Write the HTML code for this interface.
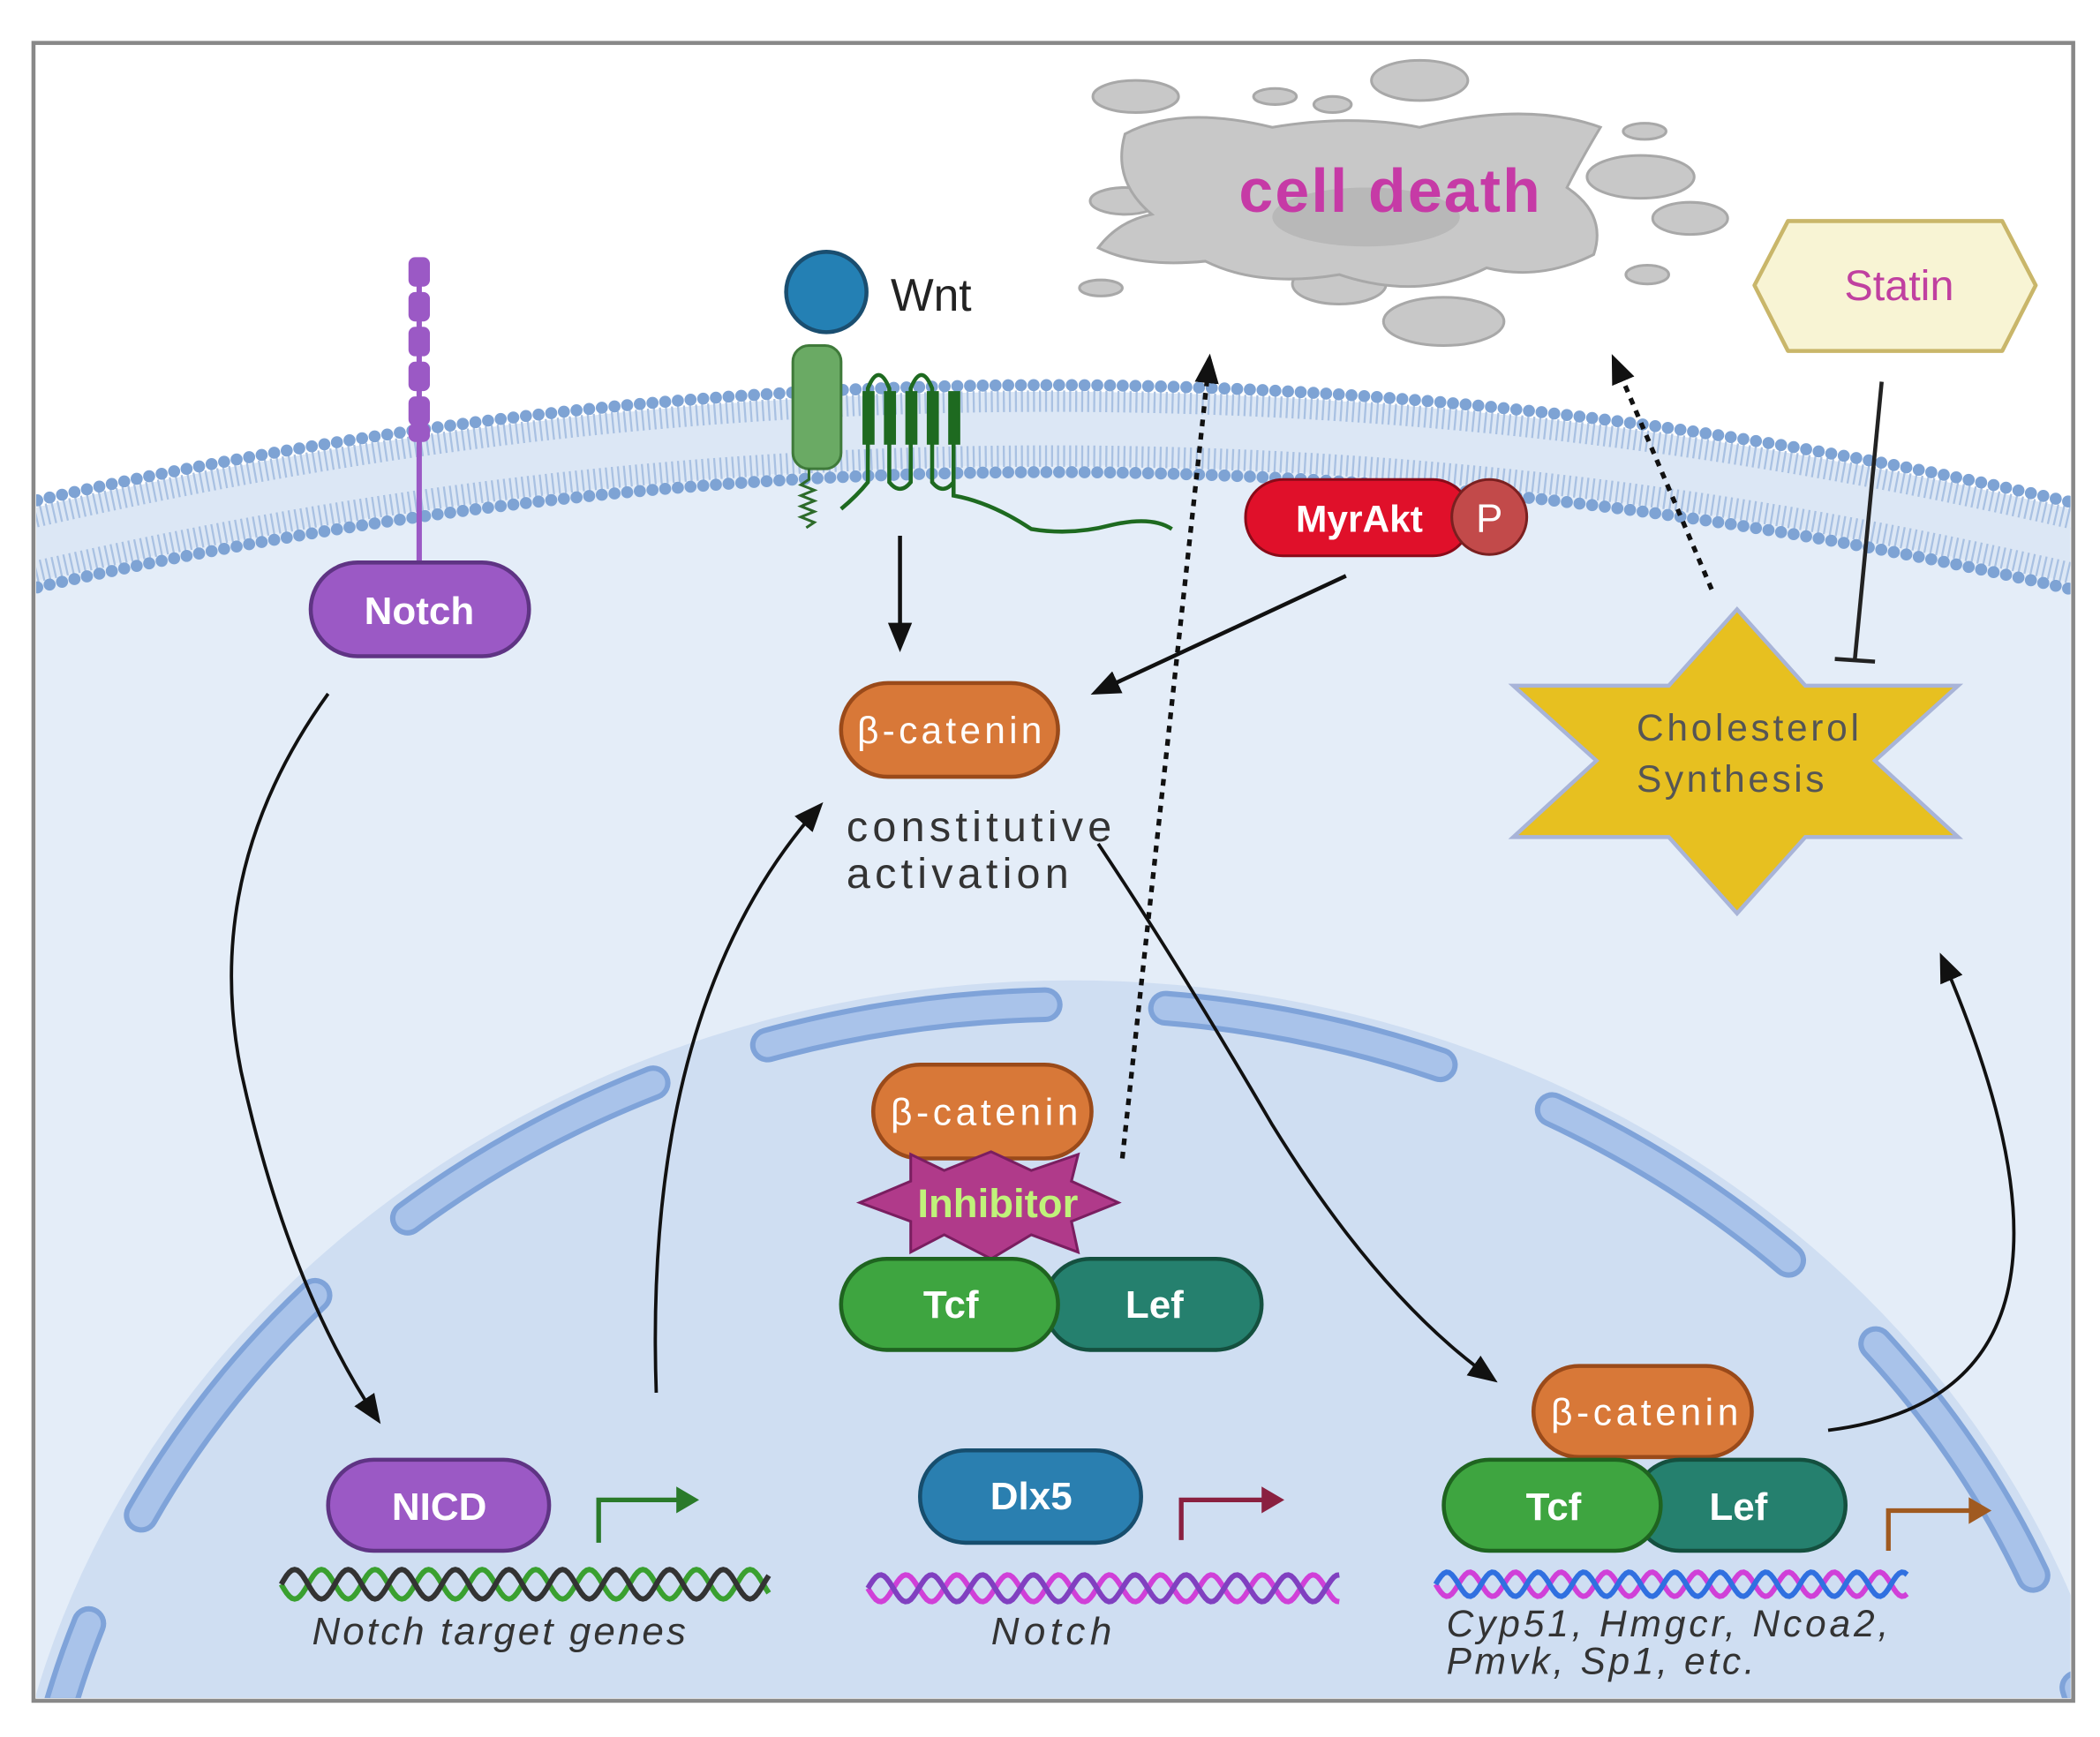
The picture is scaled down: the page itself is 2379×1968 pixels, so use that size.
<!DOCTYPE html>
<html><head><meta charset="utf-8">
<style>
html,body{margin:0;padding:0;background:#fff;width:2379px;height:1968px;overflow:hidden}
svg{display:block}
text{font-family:"Liberation Sans",sans-serif}
</style></head>
<body>
<svg id="s" width="2379" height="1968" viewBox="0 0 1568 1297" xmlns="http://www.w3.org/2000/svg">
<defs>
<marker id="ahb" markerWidth="22" markerHeight="22" refX="18" refY="11" orient="auto" markerUnits="userSpaceOnUse" viewBox="0 0 22 22">
<path d="M0,2 L22,11 L0,20 z" fill="#111"/></marker>
<clipPath id="clip"><rect x="27" y="34" width="1519" height="1234"/></clipPath>
</defs>
<rect x="0" y="0" width="1568" height="1297" fill="#fff"/>
<g clip-path="url(#clip)">
<path d="M0,440 Q785,255 1568,440 L1568,1297 L0,1297 z" fill="#e4edf8"/>
<path d="M0,385 Q785,200 1568,385 L1568,440 Q785,255 0,440 z" fill="#dce7f5"/>
<path d="M0,392 Q785,207 1568,392" fill="none" stroke="#a9c1e2" stroke-width="16" stroke-dasharray="1.5 3"/>
<path d="M0,433 Q785,248 1568,433" fill="none" stroke="#a9c1e2" stroke-width="16" stroke-dasharray="1.5 3"/>
<path d="M0,380 Q785,195 1568,380" fill="none" stroke="#7ea3d4" stroke-width="9" stroke-linecap="round" stroke-dasharray="0 9.5"/>
<path d="M0,445 Q785,260 1568,445" fill="none" stroke="#7ea3d4" stroke-width="9" stroke-linecap="round" stroke-dasharray="0 9.5"/>
<ellipse cx="800" cy="1450" rx="800" ry="718" fill="#cfdef2"/>
<ellipse cx="800" cy="1450" rx="780" ry="700" fill="none" stroke="#7fa3d9" stroke-width="26" stroke-linecap="round" stroke-dasharray="210 90" stroke-dashoffset="40"/>
<ellipse cx="800" cy="1450" rx="780" ry="700" fill="none" stroke="#a9c3ea" stroke-width="18" stroke-linecap="round" stroke-dasharray="210 90" stroke-dashoffset="40"/>
</g>
<rect x="25" y="32" width="1523" height="1238" fill="none" stroke="#888" stroke-width="3"/>

<g fill="#c8c8c8" stroke="#a8a8a8" stroke-width="2">
<ellipse cx="848" cy="72" rx="32" ry="12"/><ellipse cx="1060" cy="60" rx="36" ry="15"/>
<ellipse cx="952" cy="72" rx="16" ry="6"/><ellipse cx="995" cy="78" rx="14" ry="6"/>
<ellipse cx="1228" cy="98" rx="16" ry="6"/><ellipse cx="1225" cy="132" rx="40" ry="16"/>
<ellipse cx="1262" cy="163" rx="28" ry="12"/><ellipse cx="840" cy="150" rx="26" ry="10"/>
<ellipse cx="822" cy="215" rx="16" ry="6"/><ellipse cx="1078" cy="240" rx="45" ry="18"/>
<ellipse cx="1000" cy="212" rx="35" ry="15"/><ellipse cx="1230" cy="205" rx="16" ry="7"/>
<path d="M840,100 Q880,78 950,95 Q1010,85 1060,95 Q1140,75 1195,95 Q1180,120 1170,140 Q1200,160 1190,190 Q1150,210 1110,200 Q1060,225 1000,205 Q940,215 900,195 Q850,200 820,185 Q835,165 860,160 Q830,135 840,100 z"/>
</g>
<ellipse cx="1020" cy="162" rx="70" ry="22" fill="#b8b8b8"/>
<text x="925" y="158" font-size="46" font-weight="bold" fill="#c63aa6" textLength="225">cell  death</text>

<path d="M1335,165 L1495,165 L1520,213 L1495,262 L1335,262 L1310,213 z" fill="#f8f4d4" stroke="#c9b66a" stroke-width="3" stroke-linejoin="round"/>
<text x="1418" y="224" font-size="32" fill="#c040a0" text-anchor="middle">Statin</text>
<line x1="1405" y1="285" x2="1385" y2="492" stroke="#222" stroke-width="3"/>
<line x1="1370" y1="492" x2="1400" y2="494" stroke="#222" stroke-width="3"/>

<path d="M1297,455 L1348,512 L1462,512 L1400,568 L1462,625 L1348,625 L1297,682 L1246,625 L1130,625 L1192,568 L1130,512 L1246,512 z" fill="#e7c020" stroke="#a8b4d8" stroke-width="3"/>
<text x="1222" y="553" font-size="28" fill="#555" textLength="166">Cholesterol</text>
<text x="1222" y="591" font-size="28" fill="#555" textLength="140">Synthesis</text>

<line x1="313" y1="195" x2="313" y2="420" stroke="#9b59c5" stroke-width="4"/>
<g fill="#9b59c5">
<rect x="305" y="192" width="16" height="22" rx="5"/><rect x="305" y="218" width="16" height="22" rx="5"/>
<rect x="305" y="244" width="16" height="22" rx="5"/><rect x="305" y="270" width="16" height="22" rx="5"/>
<rect x="305" y="296" width="16" height="22" rx="5"/><rect x="305" y="316" width="16" height="14" rx="5"/></g>
<rect x="232" y="420" width="163" height="70" rx="35" fill="#9b59c5" stroke="#5f3484" stroke-width="3"/>
<text x="313" y="466" font-size="29" font-weight="bold" fill="#fff" text-anchor="middle">Notch</text>

<circle cx="617" cy="218" r="30" fill="#2480b4" stroke="#1a4e70" stroke-width="3"/>
<text x="665" y="232" font-size="34" fill="#222">Wnt</text>
<rect x="592" y="258" width="36" height="92" rx="12" fill="#6aaa64" stroke="#3f7a3a" stroke-width="2"/>
<path d="M604,350 l0,8 l-6,4 l10,4 l-10,4 l10,4 l-10,4 l10,4 l-10,4 l10,4 l-6,4" fill="none" stroke="#2d6b2a" stroke-width="2"/>
<path d="M628,380 Q640,370 648,360 L648,290 Q656,270 664,290 L664,360 Q672,370 680,360 L680,290 Q688,270 696,290 L696,360 Q704,370 712,360 L712,300 L712,370 Q740,375 770,395 Q800,400 830,392 Q860,385 875,395" fill="none" stroke="#1e6a20" stroke-width="3"/>
<g fill="#1e6a20"><rect x="644" y="292" width="9" height="40"/><rect x="660" y="292" width="9" height="40"/><rect x="676" y="292" width="9" height="40"/><rect x="692" y="292" width="9" height="40"/><rect x="708" y="292" width="9" height="40"/></g>
<line x1="672" y1="400" x2="672" y2="483" stroke="#111" stroke-width="3" marker-end="url(#ahb)"/>

<rect x="930" y="358" width="168" height="57" rx="28" fill="#e0102a" stroke="#8a0a18" stroke-width="2"/>
<text x="1015" y="397" font-size="28" font-weight="bold" fill="#fff" text-anchor="middle">MyrAkt</text>
<circle cx="1112" cy="386" r="28" fill="#c24a4a" stroke="#7a2020" stroke-width="2"/>
<text x="1112" y="397" font-size="30" fill="#fff" text-anchor="middle">P</text>
<line x1="1005" y1="430" x2="818" y2="517" stroke="#111" stroke-width="3" marker-end="url(#ahb)"/>

<rect x="628" y="510" width="162" height="70" rx="35" fill="#d87838" stroke="#9a4a1a" stroke-width="3"/>
<text x="640" y="555" font-size="28" fill="#fff" textLength="138">β-catenin</text>
<text x="632" y="628" font-size="32" fill="#333" textLength="198">constitutive</text>
<text x="632" y="663" font-size="32" fill="#333" textLength="166">activation</text>

<line x1="838" y1="865" x2="903" y2="268" stroke="#111" stroke-width="3.5" stroke-dasharray="5 5" marker-end="url(#ahb)"/>
<line x1="1278" y1="440" x2="1205" y2="268" stroke="#111" stroke-width="3.5" stroke-dasharray="5 5" marker-end="url(#ahb)"/>

<path d="M245,518 Q150,650 180,800 Q215,960 282,1060" fill="none" stroke="#111" stroke-width="2.5" marker-end="url(#ahb)"/>
<path d="M490,1040 Q480,750 612,602" fill="none" stroke="#111" stroke-width="2.5" marker-end="url(#ahb)"/>
<path d="M820,630 Q880,720 950,840 Q1030,970 1115,1030" fill="none" stroke="#111" stroke-width="2.5" marker-end="url(#ahb)"/>
<path d="M1365,1068 Q1590,1040 1450,715" fill="none" stroke="#111" stroke-width="2.5" marker-end="url(#ahb)"/>

<rect x="652" y="795" width="163" height="70" rx="35" fill="#d87838" stroke="#9a4a1a" stroke-width="3"/>
<text x="665" y="840" font-size="28" fill="#fff" textLength="140">β-catenin</text>
<path d="M680,862 L705,874 L740,860 L770,874 L805,862 L800,882 L835,898 L800,912 L805,935 L770,922 L740,940 L705,922 L680,935 L680,912 L642,898 L680,882 z" fill="#b03a8a" stroke="#7a1e60" stroke-width="2"/>
<text x="745" y="909" font-size="30" font-weight="bold" fill="#c0f27a" text-anchor="middle">Inhibitor</text>
<rect x="780" y="940" width="162" height="68" rx="34" fill="#25806e" stroke="#14503f" stroke-width="3"/>
<text x="862" y="984" font-size="29" font-weight="bold" fill="#fff" text-anchor="middle">Lef</text>
<rect x="628" y="940" width="162" height="68" rx="34" fill="#3ea540" stroke="#1f6420" stroke-width="3"/>
<text x="710" y="984" font-size="29" font-weight="bold" fill="#fff" text-anchor="middle">Tcf</text>

<rect x="245" y="1090" width="165" height="68" rx="34" fill="#9b59c5" stroke="#5f3484" stroke-width="3"/>
<text x="328" y="1135" font-size="29" font-weight="bold" fill="#fff" text-anchor="middle">NICD</text>
<path d="M447,1152 L447,1120 L515,1120" fill="none" stroke="#2a7a2a" stroke-width="3.5"/>
<path d="M505,1110 L522,1120 L505,1130 z" fill="#2a7a2a"/>
<path id="d1a" fill="none" stroke="#3aa030" stroke-width="4"/>
<path id="d1b" fill="none" stroke="#333" stroke-width="4"/>
<text x="233" y="1228" font-size="29" font-style="italic" fill="#333" textLength="279">Notch target genes</text>

<rect x="687" y="1083" width="165" height="69" rx="34" fill="#2a7fb0" stroke="#174e6e" stroke-width="3"/>
<text x="770" y="1127" font-size="29" font-weight="bold" fill="#fff" text-anchor="middle">Dlx5</text>
<path d="M882,1150 L882,1120 L950,1120" fill="none" stroke="#8a2040" stroke-width="3.5"/>
<path d="M942,1110 L959,1120 L942,1130 z" fill="#8a2040"/>
<path id="d2a" fill="none" stroke="#d040d8" stroke-width="4"/>
<path id="d2b" fill="none" stroke="#8040c0" stroke-width="4"/>
<text x="740" y="1228" font-size="29" font-style="italic" fill="#333" textLength="90">Notch</text>

<rect x="1145" y="1020" width="163" height="68" rx="34" fill="#d87838" stroke="#9a4a1a" stroke-width="3"/>
<text x="1158" y="1064" font-size="28" fill="#fff" textLength="140">β-catenin</text>
<rect x="1220" y="1090" width="158" height="68" rx="34" fill="#25806e" stroke="#14503f" stroke-width="3"/>
<text x="1298" y="1135" font-size="29" font-weight="bold" fill="#fff" text-anchor="middle">Lef</text>
<rect x="1078" y="1090" width="162" height="68" rx="34" fill="#3ea540" stroke="#1f6420" stroke-width="3"/>
<text x="1160" y="1135" font-size="29" font-weight="bold" fill="#fff" text-anchor="middle">Tcf</text>
<path d="M1410,1158 L1410,1128 L1477,1128" fill="none" stroke="#a05a20" stroke-width="3.5"/>
<path d="M1470,1118 L1487,1128 L1470,1138 z" fill="#a05a20"/>
<path id="d3a" fill="none" stroke="#d040d8" stroke-width="4"/>
<path id="d3b" fill="none" stroke="#3070e0" stroke-width="4"/>
<text x="1080" y="1222" font-size="28" font-style="italic" fill="#333" textLength="330">Cyp51,  Hmgcr, Ncoa2,</text>
<text x="1080" y="1250" font-size="28" font-style="italic" fill="#333" textLength="230">Pmvk,  Sp1, etc.</text>
</svg>
<script>
function sine(x0,x1,yc,a,per,ph){var d="";for(var x=x0;x<=x1;x+=2){var y=yc+a*Math.sin((x-x0)/per*2*Math.PI+ph);d+=(x==x0?"M":"L")+x+","+y.toFixed(1);}return d;}
var s=[["d1",210,575,1183,11,40],["d2",648,1000,1186,10,38],["d3",1072,1425,1183,9,34]];
s.forEach(function(p){document.getElementById(p[0]+"a").setAttribute("d",sine(p[1],p[2],p[3],p[4],p[5],0));document.getElementById(p[0]+"b").setAttribute("d",sine(p[1],p[2],p[3],p[4],p[5],Math.PI));});
</script>
</body></html>
